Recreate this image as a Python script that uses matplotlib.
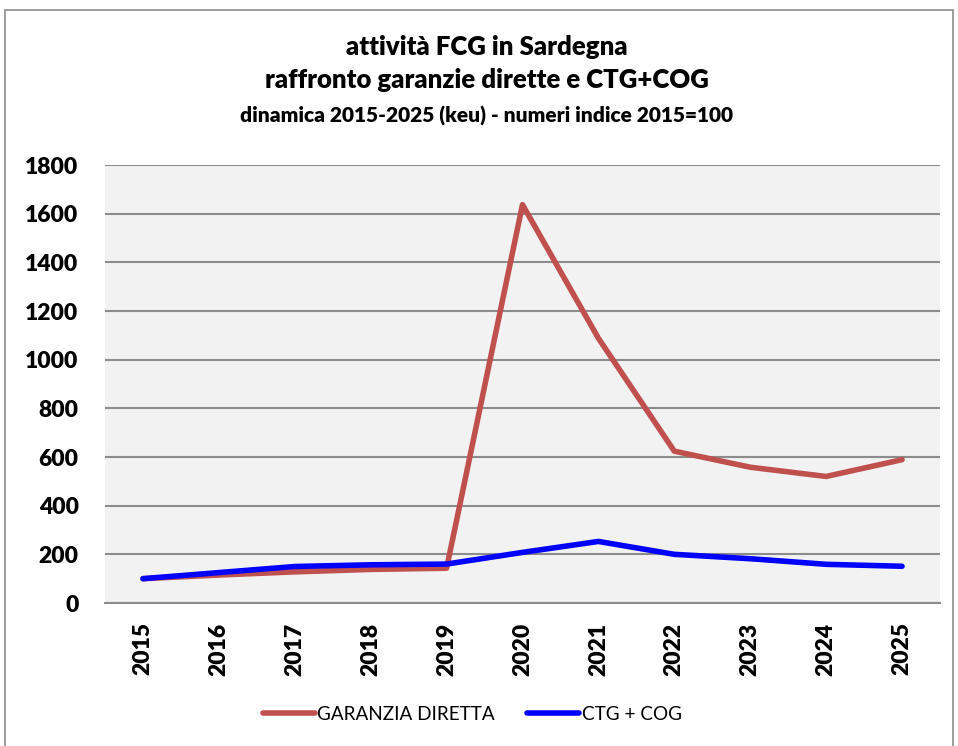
import matplotlib.pyplot as plt
from matplotlib.patches import Rectangle

# dati (numeri indice 2015=100)
anni = ['2015', '2016', '2017', '2018', '2019', '2020', '2021', '2022', '2023', '2024', '2025']
garanzia_diretta = [100, 115, 128, 138, 143, 1637, 1088, 624, 558, 520, 589]
ctg_cog = [100, 125, 150, 157, 160, 208, 253, 200, 182, 159, 151]

plt.rcParams['font.family'] = ['Lato', 'DejaVu Sans']

fig = plt.figure(figsize=(9.58, 7.46), dpi=100)
ax = fig.add_axes([105 / 958, 1 - 603 / 746, (940 - 105) / 958, (603 - 165) / 746])
ax.set_facecolor('#F2F2F2')

x = list(range(len(anni)))
ax.plot(x, garanzia_diretta, color='#C0504D', linewidth=4, solid_capstyle='round',
        label='GARANZIA DIRETTA')
ax.plot(x, ctg_cog, color='#0000FF', linewidth=4, solid_capstyle='round',
        label='CTG + COG')

ax.set_ylim(0, 1800)
ax.set_xlim(-0.5, len(anni) - 0.5)
ax.set_yticks(range(0, 1801, 200))
ax.set_xticks(x)
ax.set_xticklabels(anni, rotation=90, fontsize=16.5, fontweight='heavy')
for lab in ax.get_yticklabels():
    lab.set_fontsize(16.5)
    lab.set_fontweight('heavy')
ax.tick_params(axis='y', length=0, pad=19)
ax.tick_params(axis='x', length=0, pad=14)
ax.grid(axis='y', color='#8C8C8C', linewidth=1.5)
ax.set_axisbelow(True)
for s in ['top', 'right', 'left']:
    ax.spines[s].set_visible(False)
ax.spines['bottom'].set_color('#8C8C8C')
ax.spines['bottom'].set_linewidth(1.5)

fig.text(0.508, 1 - 47 / 746, 'attività FCG in Sardegna', ha='center', va='center',
         fontsize=18.5, fontweight='heavy')
fig.text(0.508, 1 - 80 / 746, 'raffronto garanzie dirette e CTG+COG', ha='center', va='center',
         fontsize=18.5, fontweight='heavy')
fig.text(0.508, 1 - 116 / 746, 'dinamica 2015-2025 (keu) - numeri indice 2015=100', ha='center',
         va='center', fontsize=15, fontweight='heavy')

fig.legend(loc='center', bbox_to_anchor=(0.493, 1 - 714 / 746), ncol=2, frameon=False,
           fontsize=13.6, handlelength=2.75, handletextpad=0.15, columnspacing=1.7)

fig.patches.append(Rectangle((5 / 958, -0.01), 948 / 958, 1 - 10 / 746 + 0.01,
                             transform=fig.transFigure, fill=False,
                             edgecolor='#8C8C8C', linewidth=1.2))

fig.savefig('out.png', dpi=100)
